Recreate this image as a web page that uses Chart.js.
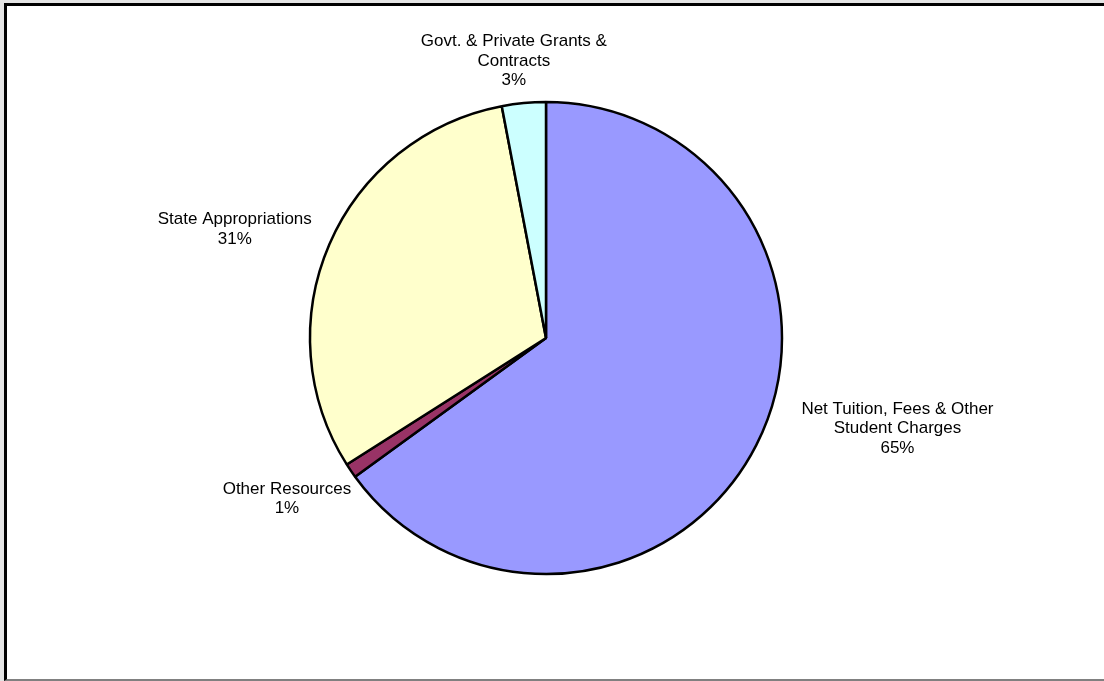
<!DOCTYPE html>
<html>
<head>
<meta charset="utf-8">
<script src="https://cdn.jsdelivr.net/npm/chart.js@4"></script>
<style>
    html, body { margin: 0; padding: 0; }
    body { width: 1104px; height: 681px; background: #e4e4e4; overflow: hidden; position: relative; }
    #frame {
        position: absolute; left: 4px; top: 3px;
        width: 1200px; height: 673px;
        background: #fff;
        border-top: 3px solid #000;
        border-left: 3px solid #000;
        border-bottom: 2px solid #808080;
    }
    #revenueChart { position: absolute; left: 0; top: 0; }
</style>
</head>
<body>
<div id="frame"></div>
<canvas id="revenueChart" width="1104" height="681"></canvas>
<script>
// Revenue sources, clockwise from 12 o'clock
const categories = [
    ['Net Tuition, Fees & Other', 'Student Charges'],
    ['Other Resources'],
    ['State Appropriations'],
    ['Govt. & Private Grants &', 'Contracts']
];
const shares = [65, 1, 31, 3];
const sliceColors = ['#9999ff', '#993366', '#ffffcc', '#ccffff'];

// draws the category name + percent outside each slice
const outsideLabels = {
    id: 'outsideLabels',
    afterDatasetsDraw(chart, args, opts) {
        const ctx = chart.ctx;
        const meta = chart.getDatasetMeta(0);
        const values = chart.data.datasets[0].data;
        const total = values.reduce((a, b) => a + b, 0);
        ctx.save();
        ctx.font = opts.font;
        ctx.fillStyle = '#000';
        ctx.textAlign = 'center';
        ctx.textBaseline = 'middle';
        meta.data.forEach(function (arc, i) {
            const lines = chart.data.labels[i].concat([Math.round(values[i] / total * 100) + '%']);
            const w = Math.max.apply(null, lines.map(l => ctx.measureText(l).width));
            const h = lines.length * opts.lineHeight;
            const mid = (arc.startAngle + arc.endAngle) / 2;
            const dx = Math.cos(mid), dy = Math.sin(mid);
            const r = arc.outerRadius + opts.gap;
            const nudge = opts.nudge[i] || [0, 0];
            const cx = arc.x + dx * r + dx * w / 2 + nudge[0];
            const cy = arc.y + dy * r + dy * h / 2 + nudge[1];
            lines.forEach(function (line, j) {
                ctx.fillText(line, cx, cy - h / 2 + opts.lineHeight * (j + 0.5));
            });
        });
        ctx.restore();
    }
};

new Chart(document.getElementById('revenueChart'), {
    type: 'pie',
    data: {
        labels: categories,
        datasets: [{
            data: shares,
            backgroundColor: sliceColors,
            borderColor: '#000',
            borderWidth: 2.5
        }]
    },
    options: {
        responsive: false,
        animation: false,
        radius: 236,
        layout: { padding: { left: 306, right: 318, top: 98, bottom: 103 } },
        plugins: {
            legend: { display: false },
            tooltip: { enabled: false },
            outsideLabels: {
                font: '17px "Liberation Sans", Arial, sans-serif',
                lineHeight: 19.5,
                gap: 13,
                nudge: { 0: [44, -36], 1: [0, 10], 2: [-12, -2] }
            }
        }
    },
    plugins: [outsideLabels]
});
</script>
</body>
</html>
